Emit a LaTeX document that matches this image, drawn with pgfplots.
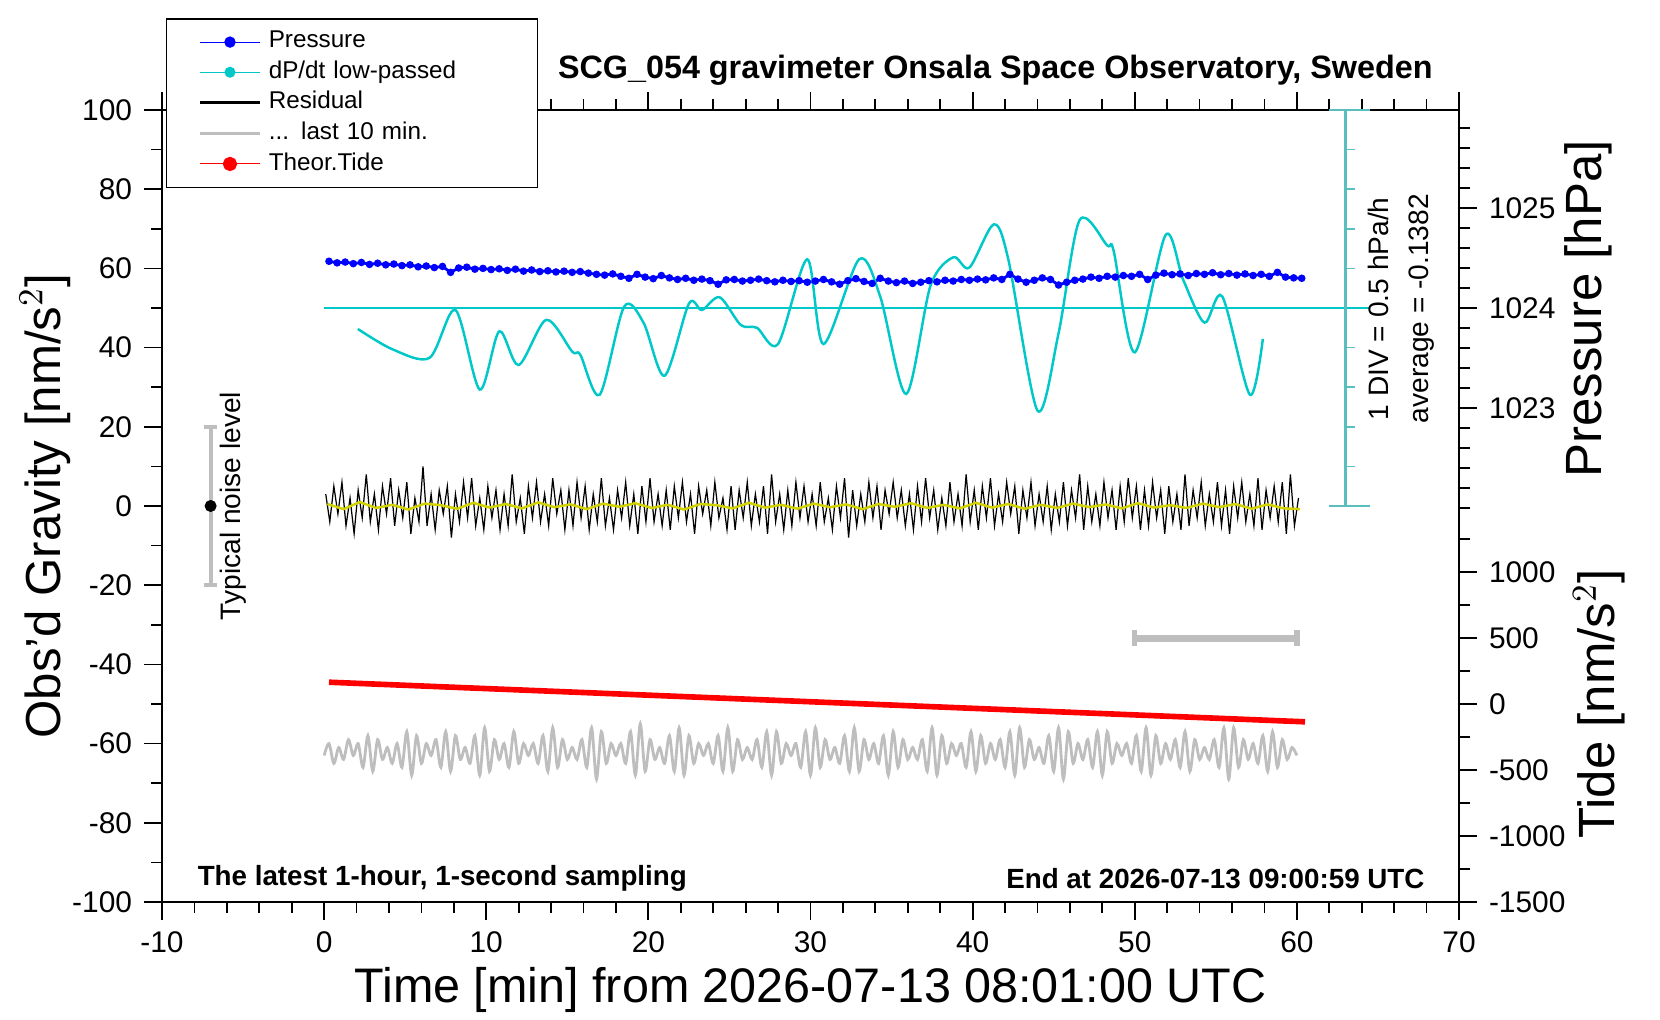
\documentclass[border=0pt]{standalone}
\usepackage{pgfplots}
\pgfplotsset{compat=1.18}
\usepackage{fontspec}
\setmainfont{Liberation Sans}
\definecolor{cy}{RGB}{0,200,200}
\definecolor{cyl}{RGB}{90,190,190}
\definecolor{gr}{RGB}{190,190,190}
\definecolor{yl}{RGB}{210,210,0}
\begin{document}
\begin{tikzpicture}
\begin{axis}[name=main,at={(0,0)},anchor=south west,
  width=12.97cm,height=7.92cm,scale only axis,
  xmin=-10,xmax=70,ymin=-100,ymax=100,
  xtick={-10,0,...,70},minor x tick num=4,
  ytick={-100,-80,...,100},minor y tick num=1,
  ytick pos=left, xtick pos=both, xticklabel pos=bottom,
  tick align=outside, major tick length=5pt, minor tick length=3pt,
  tick style={black,line width=0.5pt}, axis line style={line width=0.8pt},
  /pgf/number format/assume math mode=true,
  tick label style={font=\fontsize{8.5}{10}\selectfont},
  clip=false,
  legend style={at={(0.003,1.116)},anchor=north west,draw=black,fill=white,
    font=\fontsize{6.9}{8}\selectfont,row sep=-1.8pt,inner xsep=9pt,inner ysep=1.5pt,
    cells={anchor=west,text width=2.3cm}},
  legend image code/.code={\draw[#1] (0cm,0cm) -- (0.6cm,0cm);},
]
% Pressure
\addplot[blue,line width=0.8pt,mark=*,mark size=0.65pt,
  legend image code/.code={\draw[blue,line width=0.3pt] (0cm,0cm) -- (0.6cm,0cm); \fill[blue] (0.3cm,0cm) circle (1.2pt);}]
  table[x expr=0.3+\coordindex*0.5,y=y,row sep=\\]{y\\
61.8\\61.4\\61.6\\61.2\\61.5\\61.0\\61.3\\60.9\\61.1\\60.7\\
60.9\\60.4\\60.6\\60.2\\60.5\\59.0\\60.1\\60.3\\59.8\\60.0\\
59.7\\59.9\\59.5\\59.8\\59.3\\59.6\\59.2\\59.4\\59.1\\59.3\\
59.0\\59.2\\58.8\\58.5\\58.3\\58.6\\58.0\\57.5\\58.5\\57.8\\
57.4\\58.2\\57.6\\57.2\\57.5\\57.0\\57.3\\56.9\\56.0\\57.1\\
57.2\\56.8\\57.0\\57.3\\56.9\\56.6\\57.0\\56.7\\56.9\\56.5\\
56.8\\57.2\\56.6\\56.0\\56.9\\57.4\\56.7\\56.2\\57.5\\56.8\\
56.4\\56.8\\56.2\\56.5\\56.9\\56.6\\57.0\\56.8\\57.2\\57.0\\
57.3\\57.1\\57.6\\57.2\\58.5\\57.3\\56.5\\57.0\\57.6\\57.2\\
55.8\\56.5\\57.0\\57.3\\57.8\\57.5\\58.0\\57.8\\58.2\\58.0\\
58.5\\57.2\\58.3\\58.8\\58.4\\58.6\\58.2\\58.7\\58.5\\58.9\\
58.4\\58.7\\58.3\\58.6\\58.2\\58.5\\58.0\\59.0\\57.8\\57.6\\
57.5\\
};
\addlegendentry{Pressure}
% dP/dt
\addplot[cy,line width=0.7pt,smooth,tension=0.5,mark=none,
  legend image code/.code={\draw[cy,line width=0.3pt] (0cm,0cm) -- (0.6cm,0cm); \fill[cy] (0.3cm,0cm) circle (1.2pt);}] coordinates {
(2.08,44.7)(4.2,39.6)(6.5,37.4)(8.1,49.5)(9.6,29.4)(10.8,44.1)(12.0,35.6)(13.7,47)
(15.3,39)(15.8,38.2)(17.0,28.1)(18.5,50.3)(19.7,46.3)(21.0,32.9)(22.5,51.1)(23.3,49.5)
(24.4,52.7)(25.7,45.7)(26.7,45)(28.0,40.9)(29.8,62.3)(30.8,40.9)(33.0,62.3)(34.3,52.9)
(35.9,28.3)(37.4,55.6)(38.8,62.8)(39.8,60.2)(41.3,71.1)(42.2,62.3)(44.0,24.1)(45.3,43.6)
(46.6,72.2)(48.3,65.8)(48.7,64.4)(50.0,38.8)(51.9,68.4)(53.0,57)(54.3,46.3)(55.4,52.9)
(57.1,28.1)(57.9,42.2)};
\addlegendentry{dP/dt low-passed}
% Residual
\addplot[black,line width=0.35pt,
  legend image code/.code={\draw[black,line width=0.8pt] (0cm,0cm) -- (0.6cm,0cm);}] table[x expr=0.1+\coordindex*0.25,y=y,row sep=\\]{y\\
3\\-4\\5\\-2\\6\\-5\\2\\-7\\4\\-3\\8\\-4\\3\\-6\\5\\-2\\7\\-5\\4\\-3\\
6\\-7\\2\\-4\\10\\-5\\3\\-6\\4\\-2\\5\\-8\\3\\-4\\6\\-3\\7\\-5\\2\\-6\\
5\\-3\\4\\-6\\3\\-5\\8\\-4\\2\\-7\\5\\-3\\6\\-4\\3\\-5\\7\\-2\\4\\-6\\
4\\-5\\6\\-3\\5\\-6\\3\\-4\\7\\-5\\2\\-6\\4\\-3\\6\\-5\\3\\-7\\5\\-4\\
7\\-4\\3\\-5\\4\\-6\\5\\-3\\6\\-4\\3\\-7\\5\\-2\\4\\-5\\6\\-3\\2\\-6\\
5\\-6\\4\\-3\\6\\-5\\3\\-4\\5\\-7\\8\\-4\\3\\-6\\4\\-5\\6\\-3\\5\\-4\\
3\\-5\\6\\-4\\2\\-6\\5\\-3\\7\\-8\\4\\-5\\3\\-4\\6\\-3\\5\\-6\\4\\-2\\
6\\-3\\4\\-5\\3\\-6\\5\\-4\\7\\-3\\4\\-6\\2\\-5\\6\\-4\\3\\-5\\8\\-4\\
4\\-6\\5\\-3\\7\\-5\\3\\-4\\6\\-2\\5\\-7\\4\\-3\\6\\-5\\3\\-4\\5\\-6\\
3\\-4\\6\\-5\\4\\-3\\8\\-6\\5\\-4\\3\\-5\\6\\-3\\4\\-6\\5\\-4\\7\\-3\\
5\\-6\\4\\-5\\6\\-3\\4\\-7\\5\\-4\\3\\-6\\8\\-5\\4\\-3\\6\\-5\\3\\-4\\
6\\-5\\4\\-7\\5\\-3\\6\\-4\\3\\-5\\7\\-6\\4\\-3\\5\\-4\\6\\-7\\8\\-5\\
2\\
};
\addlegendentry{Residual}
% last 10 min
\addplot[gr,line width=0.8pt,smooth,
  legend image code/.code={\draw[gr,line width=1pt] (0cm,0cm) -- (0.6cm,0cm);}] table[x expr=\coordindex*0.3,y expr=-62+\thisrow{y},row sep=\\]{y\\
-1\\2\\-3\\1\\-2\\3\\-1\\2\\-4\\4\\-5\\3\\-2\\1\\-3\\2\\-4\\5\\-6\\4\\
-3\\2\\-1\\3\\-4\\5\\-5\\4\\-2\\1\\-3\\4\\-6\\6\\-5\\3\\-2\\2\\-4\\5\\
-3\\2\\-1\\2\\-3\\4\\-5\\6\\-4\\3\\-2\\1\\-2\\3\\-4\\6\\-7\\5\\-3\\2\\
-1\\2\\-3\\5\\-6\\7\\-5\\3\\-2\\1\\-3\\4\\-5\\6\\-6\\4\\-3\\2\\-1\\2\\
-3\\4\\-5\\6\\-5\\3\\-2\\1\\-2\\3\\-4\\5\\-6\\5\\-3\\2\\-1\\2\\-4\\5\\
-6\\6\\-4\\3\\-2\\1\\-3\\4\\-5\\6\\-5\\3\\-2\\2\\-3\\4\\-6\\5\\-4\\3\\
-2\\1\\-2\\3\\-5\\6\\-6\\4\\-3\\2\\-1\\2\\-4\\5\\-5\\4\\-3\\2\\-2\\3\\
-4\\5\\-6\\6\\-4\\3\\-2\\1\\-3\\4\\-5\\6\\-7\\5\\-3\\2\\-2\\3\\-4\\5\\
-6\\5\\-3\\2\\-1\\2\\-3\\4\\-5\\6\\-6\\4\\-3\\2\\-2\\3\\-4\\5\\-5\\3\\
-2\\1\\-2\\3\\-4\\6\\-7\\6\\-4\\3\\-2\\2\\-3\\4\\-5\\5\\-4\\3\\-2\\1\\
-1\\
};
\addlegendentry{... last 10 min.}
% Tide
\addplot[red,line width=1.6pt,
  legend image code/.code={\draw[red,line width=0.3pt] (0cm,0cm) -- (0.6cm,0cm); \fill[red] (0.3cm,0cm) circle (1.2pt);}]
  coordinates {(0.3,-44.5)(60.5,-54.5)};
\addlegendentry{Theor.Tide}
% yellow smoothed residual
\addplot[yl,line width=0.7pt,forget plot] table[x expr=0.2+\coordindex*1,y=y,row sep=\\]{y\\
0.5\\-0.8\\1.0\\-0.5\\0.3\\-0.9\\0.6\\0.2\\-0.7\\0.8\\-0.4\\0.5\\-0.6\\0.9\\-0.3\\0.4\\-0.8\\0.6\\-0.2\\0.7\\
-0.5\\0.3\\-0.9\\0.5\\0.2\\-0.6\\0.8\\-0.4\\0.3\\-0.7\\0.6\\-0.3\\0.4\\-0.8\\0.5\\-0.2\\0.7\\-0.5\\0.3\\-0.6\\
0.8\\-0.4\\0.5\\-0.7\\0.3\\-0.5\\0.6\\-0.3\\0.4\\-0.6\\0.7\\-0.4\\0.2\\-0.5\\0.6\\-0.3\\0.5\\-0.7\\0.4\\-0.6\\
-0.8\\
};
% dP/dt scale
\addplot[cy,line width=0.5pt,forget plot] coordinates {(0,50)(64.5,50)};
\addplot[cyl,line width=0.7pt,forget plot] coordinates {(63,0)(63,100)};
\addplot[cyl,line width=0.7pt,forget plot] coordinates {(62,100)(64.5,100)};
\addplot[cyl,line width=0.7pt,forget plot] coordinates {(62,0)(64.5,0)};
\pgfplotsinvokeforeach{10,20,30,40,60,70,80,90}{
  \addplot[cyl,line width=0.5pt,forget plot] coordinates {(63,#1)(63.6,#1)};}
% noise level
\addplot[gr,line width=1.2pt,forget plot] coordinates {(-7,-20)(-7,20)};
\addplot[gr,line width=1.2pt,forget plot] coordinates {(-7.4,-20)(-6.6,-20)};
\addplot[gr,line width=1.2pt,forget plot] coordinates {(-7.4,20)(-6.6,20)};
\addplot[black,only marks,mark=*,mark size=1.5pt,forget plot] coordinates {(-7,0)};
% 10-min bar
\addplot[gr,line width=2pt,forget plot] coordinates {(50,-33.4)(60,-33.4)};
\addplot[gr,line width=1.5pt,forget plot] coordinates {(50,-31.4)(50,-35.4)};
\addplot[gr,line width=1.5pt,forget plot] coordinates {(60,-31.4)(60,-35.4)};
% texts
\node[rotate=90,font=\fontsize{8}{9}\selectfont] at (axis cs:-5.6,0) {Typical noise level};
\node[rotate=90,font=\fontsize{8}{9}\selectfont] at (rel axis cs:0.938,0.749) {1 DIV = 0.5 hPa/h};
\node[rotate=90,font=\fontsize{8}{9}\selectfont] at (rel axis cs:0.971,0.749) {average = -0.1382};
\node[font=\bfseries\fontsize{9.2}{11}\selectfont] at (rel axis cs:0.6425,1.05) {SCG\_054 gravimeter Onsala Space Observatory, Sweden};
\node[anchor=west,font=\bfseries\fontsize{7.9}{10}\selectfont] at (rel axis cs:0.018,0.03) {The latest 1-hour, 1-second sampling};
\node[anchor=east,font=\bfseries\fontsize{7.9}{10}\selectfont] at (rel axis cs:0.983,0.03) {End at 2026-07-13 09:00:59 UTC};
\node[font=\fontsize{13.8}{16}\selectfont] at (rel axis cs:0.5,-0.111) {Time [min] from 2026-07-13 08:01:00 UTC};
\node[rotate=90,font=\fontsize{14}{16}\selectfont] at (rel axis cs:-0.09,0.5) {Obs'd Gravity [nm/s$^2$]};
\node[rotate=90,font=\fontsize{14.5}{16}\selectfont] at (rel axis cs:1.0996,0.749) {Pressure [hPa]};
\node[rotate=90,font=\fontsize{14.5}{16}\selectfont] at (rel axis cs:1.108,0.25) {Tide [nm/s$^2$]};
\end{axis}
% pressure axis
\begin{axis}[at={(0,0)},anchor=south west,width=12.97cm,height=7.92cm,scale only axis,
  xmin=-10,xmax=70,ymin=1018.0645,ymax=1025.9786,
  axis x line=none, axis y line*=right, axis line style={draw=none},
  ytick={1023,1024,1025}, minor ytick={1022.0,1022.2,...,1025.9},
  tick align=outside, major tick length=5pt, minor tick length=3pt,
  tick style={black,line width=0.5pt},
  /pgf/number format/assume math mode=true,
  /pgf/number format/1000 sep={},
  tick label style={font=\fontsize{8.5}{10}\selectfont}]
\end{axis}
% tide axis
\begin{axis}[at={(0,0)},anchor=south west,width=12.97cm,height=7.92cm,scale only axis,
  xmin=-10,xmax=70,ymin=-1500,ymax=4500,
  axis x line=none, axis y line*=right, axis line style={draw=none},
  ytick={-1500,-1000,...,1000}, minor ytick={-1250,-750,...,1250},
  tick align=outside, major tick length=5pt, minor tick length=3pt,
  tick style={black,line width=0.5pt},
  /pgf/number format/assume math mode=true,
  /pgf/number format/1000 sep={},
  tick label style={font=\fontsize{8.5}{10}\selectfont}]
\end{axis}
\pgfresetboundingbox
\path (-1.62,-1.18) rectangle (14.98,9.02);
\end{tikzpicture}
\end{document}
